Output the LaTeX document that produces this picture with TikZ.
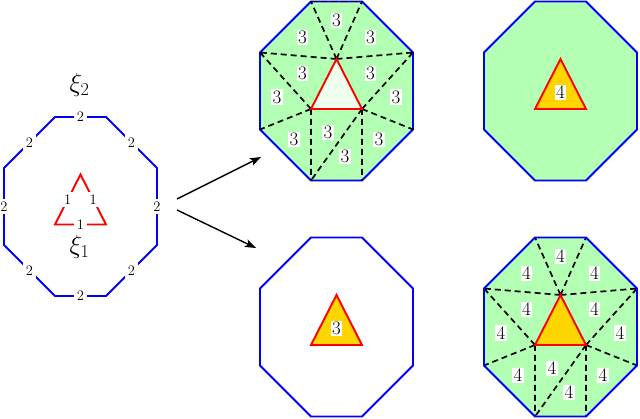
\RequirePackage{fix-cm}
\documentclass[tikz,border=0pt]{standalone}
\usetikzlibrary{calc,arrows.meta}
\definecolor{octgreen}{RGB}{179,255,179}
\definecolor{palegreen}{RGB}{238,255,238}
\definecolor{trigold}{RGB}{255,213,0}
\newcommand{\mkoct}[3]{%
  \coordinate (#1c) at (#2,#3);
  \coordinate (#1v1) at ($(#1c)+(-25.5,-89.5)$);
  \coordinate (#1v2) at ($(#1c)+(25.5,-89.5)$);
  \coordinate (#1v3) at ($(#1c)+(76.5,-38.5)$);
  \coordinate (#1v4) at ($(#1c)+(76.5,38.5)$);
  \coordinate (#1v5) at ($(#1c)+(25.5,89.5)$);
  \coordinate (#1v6) at ($(#1c)+(-25.5,89.5)$);
  \coordinate (#1v7) at ($(#1c)+(-76.5,38.5)$);
  \coordinate (#1v8) at ($(#1c)+(-76.5,-38.5)$);
  \coordinate (#1ta) at ($(#1c)+(0,-32)$);
  \coordinate (#1tb) at ($(#1c)+(-25.5,18)$);
  \coordinate (#1tc) at ($(#1c)+(25.5,18)$);
}
\newcommand{\drawoct}[2]{\path[#2] (#1v1)--(#1v2)--(#1v3)--(#1v4)--(#1v5)--(#1v6)--(#1v7)--(#1v8)--cycle;}
\newcommand{\drawtri}[2]{\path[#2] (#1ta)--(#1tb)--(#1tc)--cycle;}
\newcommand{\fanlines}[1]{\draw[dsh] (#1ta)--(#1v1) (#1ta)--(#1v2) (#1ta)--(#1v8) (#1ta)--(#1v3)
  (#1tb)--(#1v8) (#1tb)--(#1v7) (#1tb)--(#1v6)
  (#1tc)--(#1v3) (#1tc)--(#1v4) (#1tc)--(#1v5) (#1tc)--(#1v6);}
\newcommand{\fanlabels}[2]{%
  \node[labbig] (#1l1) at (barycentric cs:#1ta=1,#1v1=1,#1v2=1) {$#2$};
  \node[labbig] (#1l2) at (barycentric cs:#1ta=1,#1v8=1,#1v1=1) {$#2$};
  \node[labbig] (#1l3) at (barycentric cs:#1ta=1,#1v2=1,#1v3=1) {$#2$};
  \node[labbig] (#1l4) at (barycentric cs:#1ta=1,#1tb=1,#1v8=1) {$#2$};
  \node[labbig] (#1l5) at (barycentric cs:#1ta=1,#1tc=1,#1v3=1) {$#2$};
  \node[labbig] (#1l6) at (barycentric cs:#1tb=1,#1v8=1,#1v7=1) {$#2$};
  \node[labbig] (#1l7) at (barycentric cs:#1tc=1,#1v3=1,#1v4=1) {$#2$};
  \node[labbig] (#1l8) at (barycentric cs:#1tb=1,#1v7=1,#1v6=1) {$#2$};
  \node[labbig] (#1l9) at (barycentric cs:#1tb=1,#1tc=1,#1v6=1) {$#2$};
  \node[labbig] (#1l10) at (barycentric cs:#1tc=1,#1v6=1,#1v5=1) {$#2$};
  \node[labbig] (#1l11) at (barycentric cs:#1tc=1,#1v4=1,#1v5=1) {$#2$};
}
\tikzset{
  octline/.style={draw=blue, line width=1.9pt},
  triline/.style={draw=red, line width=1.9pt, line join=miter},
  dsh/.style={draw=black, line width=1.7pt, dash pattern=on 6pt off 4pt},
  labsmall/.style={fill=white, inner sep=3pt, font=\fontsize{14.5}{17}\selectfont},
  labbig/.style={fill=white, inner sep=1.5pt, font=\fontsize{19}{22}\selectfont},
  xilab/.style={inner sep=0pt, font=\fontsize{26}{31}\selectfont},
  arr/.style={draw=black, line width=1.4pt, -{Stealth[length=11pt,width=8pt,inset=2.5pt]}}
}
\begin{document}
\begin{tikzpicture}[x=1pt,y=-1pt]
\useasboundingbox (0,0) rectangle (640,419);
\mkoct{L}{80.5}{206.5}
\mkoct{M}{336.5}{91}
\mkoct{R}{560.5}{91}
\mkoct{N}{336.5}{327}
\mkoct{S}{560.5}{327}
% left octagon
\drawoct{L}{octline}
\drawtri{L}{triline}
\node[labsmall] (Le1) at ($(Lv1)!0.5!(Lv2)$) {$2$};
\node[labsmall] (Le2) at ($(Lv2)!0.5!(Lv3)$) {$2$};
\node[labsmall] (Le3) at ($(Lv3)!0.5!(Lv4)$) {$2$};
\node[labsmall] (Le4) at ($(Lv4)!0.5!(Lv5)$) {$2$};
\node[labsmall] (Le5) at ($(Lv5)!0.5!(Lv6)$) {$2$};
\node[labsmall] (Le6) at ($(Lv6)!0.5!(Lv7)$) {$2$};
\node[labsmall] (Le7) at ($(Lv7)!0.5!(Lv8)$) {$2$};
\node[labsmall] (Le8) at ($(Lv8)!0.5!(Lv1)$) {$2$};
\node[labsmall] (Lt1) at ($(Lta)!0.5!(Ltb)$) {$1$};
\node[labsmall] (Lt2) at ($(Lta)!0.5!(Ltc)$) {$1$};
\node[labsmall] (Lt3) at ($(Ltb)!0.5!(Ltc)$) {$1$};
\node[xilab] (xi2) at (79.5,85) {$\xi_2$};
\node[xilab] (xi1) at (79.5,247) {$\xi_1$};
% arrows
\coordinate (a1s) at (177,199);
\coordinate (a1e) at (261,157);
\coordinate (a2s) at (177,210);
\coordinate (a2e) at (256,248);
\draw[arr] (a1s) -- (a1e);
\draw[arr] (a2s) -- (a2e);
% top middle
\drawoct{M}{fill=octgreen}
\drawoct{M}{octline}
\fanlines{M}
\draw[dsh] (Mv1)--(Mv2);
\drawtri{M}{fill=palegreen,triline}
\fanlabels{M}{3}
% top right
\drawoct{R}{fill=octgreen,octline}
\drawtri{R}{fill=trigold,triline}
\node[labbig] (Rl) at (barycentric cs:Rta=1,Rtb=1,Rtc=1) {$4$};
% bottom middle
\drawoct{N}{octline}
\drawtri{N}{fill=trigold,triline}
\node[labbig] (Nl) at (barycentric cs:Nta=1,Ntb=1,Ntc=1) {$3$};
% bottom right
\drawoct{S}{fill=octgreen}
\fanlines{S}
\drawoct{S}{octline}
\drawtri{S}{fill=trigold,triline}
\fanlabels{S}{4}
\end{tikzpicture}
\end{document}
